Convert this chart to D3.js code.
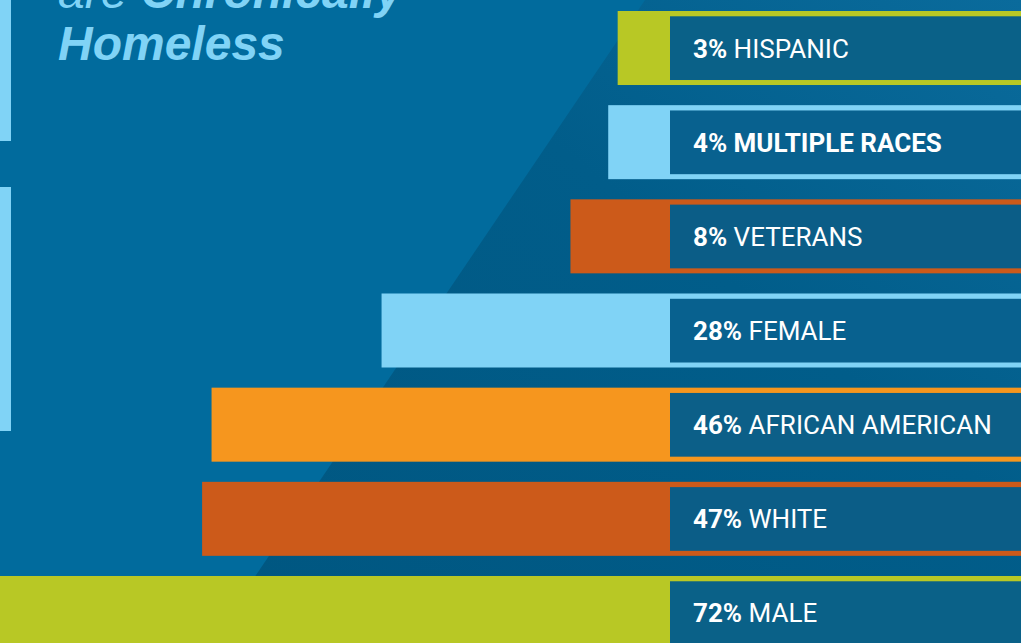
<!DOCTYPE html>
<html>
<head>
<meta charset="utf-8">
<script src="https://cdn.jsdelivr.net/npm/d3@7"></script>
<style>
  html, body { margin: 0; padding: 0; background: #016b9d; overflow: hidden; }
  svg { display: block; }
</style>
</head>
<body>
<svg id="chart" width="1021" height="643"></svg>
<script>
const categories = ["HISPANIC", "MULTIPLE RACES", "VETERANS", "FEMALE", "AFRICAN AMERICAN", "WHITE", "MALE"];
const values = [3, 4, 8, 28, 46, 47, 72];
const titleLines = [["are ", "Chronically"], ["", "Homeless"]];

const palette = ["#b8c825", "#80d3f6", "#cc5a1a", "#80d3f6", "#f6961e", "#cc5a1a", "#b8c825"];

const svg = d3.select("#chart");
const width = +svg.attr("width");
const height = +svg.attr("height");

const data = categories.map((c, i) => ({ name: c, value: values[i] }));

// background
svg.append("rect").attr("width", width).attr("height", height).attr("fill", "#016b9d");

const defs = svg.append("defs");
const grad = defs.append("linearGradient").attr("id", "photo")
  .attr("x1", "0%").attr("y1", "100%").attr("x2", "100%").attr("y2", "0%");
grad.append("stop").attr("offset", "0%").attr("stop-color", "#005680");
grad.append("stop").attr("offset", "60%").attr("stop-color", "#015d8a");
grad.append("stop").attr("offset", "100%").attr("stop-color", "#0a6b9c");

// darker photo panel behind the bars (diagonal edge)
svg.append("path")
  .attr("d", `M645,0 L${width},0 L${width},${height} L210,${height} Z`)
  .attr("fill", "url(#photo)");

// left accent stripes
svg.append("rect").attr("x", 0).attr("y", 0).attr("width", 11).attr("height", 141).attr("fill", "#80d3f6");
svg.append("rect").attr("x", 0).attr("y", 187).attr("width", 11).attr("height", 244).attr("fill", "#80d3f6");

// title (top line is cropped by the frame, as in the original)
const title = svg.append("text")
  .attr("x", 58)
  .attr("font-family", "'Liberation Sans', Arial, sans-serif")
  .attr("font-size", 48)
  .attr("font-style", "italic")
  .attr("fill", "#80d3f6");
titleLines.forEach((ln, i) => {
  const t = title.append("tspan").attr("x", 58).attr("y", 8 + i * 52);
  if (ln[0]) t.append("tspan").attr("font-weight", "normal").text(ln[0]);
  t.append("tspan").attr("font-weight", "bold").text(ln[1]);
});

// scales
const boxX = 670;
const y = d3.scaleBand().domain(categories).range([11, 650]).paddingInner(0.214).paddingOuter(0);
const overhang = d3.scaleLinear().domain([0, 72]).range([24, 704]);
const color = d3.scaleOrdinal().domain(categories).range(palette);

const rows = svg.append("g").selectAll("g")
  .data(data)
  .join("g")
  .attr("transform", d => `translate(0,${y(d.name)})`);

rows.append("rect")
  .attr("x", d => boxX - overhang(d.value))
  .attr("y", 0)
  .attr("width", d => width - (boxX - overhang(d.value)) + 5)
  .attr("height", y.bandwidth())
  .attr("fill", d => color(d.name));

rows.append("rect")
  .attr("x", boxX)
  .attr("y", 5.3)
  .attr("width", width - boxX + 5)
  .attr("height", y.bandwidth() - 10.3)
  .attr("fill", "#045d8b")
  .attr("fill-opacity", 0.97);

const label = rows.append("text")
  .attr("x", 693)
  .attr("y", y.bandwidth() / 2 + 9.5)
  .attr("font-family", "Roboto, 'Liberation Sans', sans-serif")
  .attr("font-size", 26)
  .attr("fill", "#ffffff");
label.append("tspan").attr("font-weight", "bold").text(d => d.value + "% ");
label.append("tspan")
  .attr("font-weight", d => d.name === "MULTIPLE RACES" ? "bold" : "normal")
  .text(d => d.name);
</script>
</body>
</html>
